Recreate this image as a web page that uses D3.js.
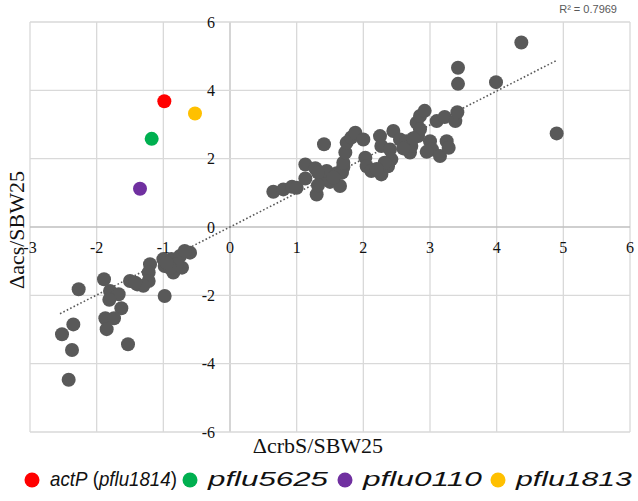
<!DOCTYPE html>
<html><head><meta charset="utf-8">
<script src="https://cdn.jsdelivr.net/npm/d3@7"></script>
<style>
html,body{margin:0;padding:0;background:#fff;}
svg{display:block;}
</style></head>
<body>
<svg id="chart" width="638" height="501"></svg>
<script>
// ---- data ----
const grayX = [-2.27,-1.89,-1.50,-1.39,-1.80,-1.67,-1.81,-1.63,-1.87,-1.74,-1.85,-2.35,-2.52,-2.37,-1.53,-2.42,
  -1.20,-1.22,-1.22,-1.30,-1.42,-0.98,-0.88,-0.75,-0.60,-0.85,-0.72,-1.00,-0.80,-0.98,-0.68,-0.90,-0.95,
  0.65,0.80,0.93,1.00,1.13,1.28,1.13,1.30,1.41,1.38,1.50,1.65,1.45,1.60,1.32,1.32,1.70,1.68,1.70,1.73,1.75,1.82,1.88,
  2.00,2.03,2.05,2.12,2.27,2.25,2.27,2.40,2.42,2.37,2.45,2.55,2.65,2.70,2.72,2.60,2.80,2.85,2.92,2.82,2.85,
  3.00,3.03,3.15,3.10,3.22,3.25,3.28,3.38,3.41,3.42,3.42,3.99,4.37,4.90,2.95,2.75,1.55,2.32,2.20];
const grayY = [-1.82,-1.53,-1.58,-1.68,-1.87,-1.97,-2.13,-2.38,-2.67,-2.67,-2.99,-2.85,-3.14,-3.60,-3.43,-4.47,
  -1.09,-1.33,-1.58,-1.72,-1.63,-1.14,-0.94,-0.85,-0.75,-1.33,-1.19,-0.94,-1.09,-2.02,-0.70,-1.20,-1.05,
  1.03,1.10,1.18,1.15,1.83,1.72,1.42,0.95,2.42,1.49,1.32,1.20,1.64,1.57,1.59,1.22,1.75,1.59,1.88,2.18,2.47,2.62,2.76,
  2.56,2.03,1.78,1.64,1.54,2.66,2.37,2.27,1.98,1.78,2.81,2.56,2.51,2.18,2.37,2.30,3.05,3.25,3.40,2.66,2.86,
  2.51,2.27,2.08,3.10,3.22,2.51,2.32,3.10,3.36,4.19,4.66,4.24,5.40,2.74,2.20,2.60,1.45,1.88,1.70];
const hiNames = ["actP", "pflu5625", "pflu0110", "pflu1813"];
const hiLabels = ["pflu1814", "pflu5625", "pflu0110", "pflu1813"];
const hiX = [-0.985, -1.175, -1.35, -0.525];
const hiY = [3.68, 2.58, 1.12, 3.32];
const hiColors = ["#ff0000", "#00b050", "#7030a0", "#ffc000"];
const xTicks = [-3,-2,-1,0,1,2,3,4,5,6];
const yTicks = [-6,-4,-2,0,2,4,6];
const trendX = [-2.55, 4.89];
const trendSlope = 0.995;
const trendIntercept = 0.0;
const r2Text = "R² = 0.7969";

// ---- chart ----
const svg = d3.select("#chart");
const x = d3.scaleLinear().domain([-3, 6]).range([30, 630]);
const y = d3.scaleLinear().domain([-6, 6]).range([432, 22]);
const grid = "#d9d9d9";

const g = svg.append("g");
g.selectAll("line.vg").data(xTicks).join("line")
  .attr("x1", d => x(d)).attr("x2", d => x(d))
  .attr("y1", y(6)).attr("y2", y(-6))
  .attr("stroke", d => d === 0 ? "#bfbfbf" : grid).attr("stroke-width", 1.3);
g.selectAll("line.hg").data(yTicks).join("line")
  .attr("x1", x(-3)).attr("x2", x(6))
  .attr("y1", d => y(d)).attr("y2", d => y(d))
  .attr("stroke", d => d === 0 ? "#bfbfbf" : grid).attr("stroke-width", 1.3);

const tickFont = "'Liberation Serif','Times New Roman',serif";
g.selectAll("text.xt").data(xTicks).join("text")
  .attr("x", d => x(d)).attr("y", y(0) + 26)
  .attr("text-anchor", "middle").attr("font-family", tickFont).attr("font-size", 16)
  .attr("fill", "#111").text(d => d);
g.selectAll("text.yt").data(yTicks).join("text")
  .attr("x", x(0) - 15).attr("y", d => y(d)).attr("dy", "0.35em")
  .attr("text-anchor", "end").attr("font-family", tickFont).attr("font-size", 16)
  .attr("fill", "#111").text(d => d);

g.append("line")
  .attr("x1", x(trendX[0])).attr("y1", y(trendSlope * trendX[0] + trendIntercept))
  .attr("x2", x(trendX[1])).attr("y2", y(trendSlope * trendX[1] + trendIntercept))
  .attr("stroke", "#595959").attr("stroke-width", 1.6).attr("stroke-dasharray", "1.6,2.2");

g.selectAll("circle.pt").data(grayX.map((v, i) => [v, grayY[i]])).join("circle")
  .attr("cx", d => x(d[0])).attr("cy", d => y(d[1])).attr("r", 7)
  .attr("fill", "#595959");

g.selectAll("circle.hi").data(hiX.map((v, i) => [v, hiY[i], hiColors[i]])).join("circle")
  .attr("cx", d => x(d[0])).attr("cy", d => y(d[1])).attr("r", 7)
  .attr("fill", d => d[2]);

svg.append("text").attr("transform", `translate(24,${(y(6)+y(-6))/2 + 3}) rotate(-90)`)
  .attr("text-anchor", "middle").attr("font-family", tickFont).attr("font-size", 22)
  .attr("fill", "#111").text("Δacs/SBW25");
svg.append("text").attr("x", 318).attr("y", 453)
  .attr("text-anchor", "middle").attr("font-family", tickFont).attr("font-size", 22)
  .attr("fill", "#111").text("ΔcrbS/SBW25");

svg.append("text").attr("x", 617).attr("y", 13).attr("text-anchor", "end")
  .attr("font-family", "'Liberation Sans',Arial,sans-serif").attr("font-size", 11)
  .attr("fill", "#595959").text(r2Text);

// legend
const legFont = "'Liberation Sans',Arial,sans-serif";
const lg = svg.append("g");
const legX = [32, 190, 345, 498];
const legLen = [127, 120, 119, 116];
hiNames.forEach((name, i) => {
  lg.append("circle").attr("cx", legX[i]).attr("cy", 480).attr("r", 7.5).attr("fill", hiColors[i]);
  const tg = lg.append("g");
  const t = tg.append("text").attr("x", 0).attr("y", 0)
    .attr("font-family", legFont).attr("font-size", 20).attr("fill", "#111");
  if (i === 0) {
    t.append("tspan").attr("font-style", "italic").text("actP");
    t.append("tspan").text(" (");
    t.append("tspan").attr("font-style", "italic").text(hiLabels[0]);
    t.append("tspan").text(")");
  } else {
    t.append("tspan").attr("font-style", "italic").text(hiLabels[i]);
  }
  const w = t.node().getComputedTextLength();
  tg.attr("transform", `translate(${legX[i] + 18},486) scale(${legLen[i] / w},1)`);
});
</script>
</body></html>
